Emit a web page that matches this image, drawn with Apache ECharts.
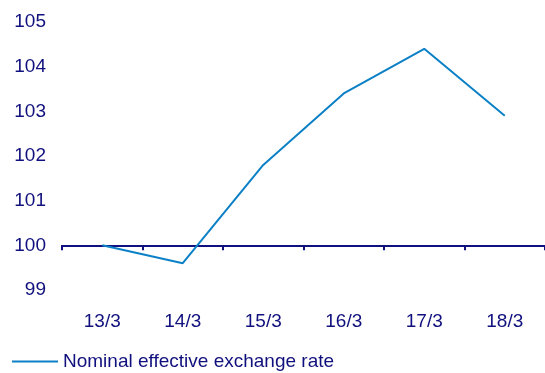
<!DOCTYPE html>
<html>
<head>
<meta charset="utf-8">
<script src="https://cdn.jsdelivr.net/npm/echarts@6/dist/echarts.min.js"></script>
<style>
  html, body { margin: 0; padding: 0; background: #fff; }
  #chart { width: 545px; height: 373px; }
</style>
</head>
<body>
<div id="chart"></div>
<script>
// Nominal effective exchange rate, index
const categories = ['13/3', '14/3', '15/3', '16/3', '17/3', '18/3'];
const rateValues = [100.0, 99.6, 101.8, 103.4, 104.4, 102.9];
const seriesName = 'Nominal effective exchange rate';

const navy = '#10107e';
const lineBlue = '#0c80c6';
const font = 'Liberation Sans, Arial, sans-serif';

const yMin = 99, yMax = 105;
const gridTop = 22, gridHeight = 268;

const chart = echarts.init(document.getElementById('chart'));
chart.setOption({
  animation: false,
  grid: { left: 62, top: gridTop, width: 486, height: gridHeight, containLabel: false },
  legend: {
    left: 7,
    top: 347,
    icon: 'rect',
    itemWidth: 46,
    itemHeight: 2,
    itemGap: 6,
    textStyle: { color: navy, fontSize: 19, fontFamily: font, padding: [0, 0, 0, 0] },
    data: [seriesName]
  },
  xAxis: {
    type: 'category',
    data: categories,
    boundaryGap: true,
    // axis line sits on the 100 baseline
    offset: -gridHeight / (yMax - yMin) * (100 - yMin),
    axisLine: { lineStyle: { color: navy, width: 2 } },
    axisTick: { show: true, length: 5, lineStyle: { color: navy, width: 2 } },
    axisLabel: { color: navy, fontSize: 19, fontFamily: font, margin: 67 },
    splitLine: { show: false }
  },
  yAxis: {
    type: 'value',
    min: yMin,
    max: yMax,
    interval: 1,
    axisLine: { show: false },
    axisTick: { show: false },
    splitLine: { show: false },
    axisLabel: { color: navy, fontSize: 19, fontFamily: font, margin: 16 }
  },
  series: [{
    name: seriesName,
    type: 'line',
    data: rateValues,
    symbol: 'none',
    lineStyle: { color: lineBlue, width: 2 },
    itemStyle: { color: lineBlue }
  }]
});
</script>
</body>
</html>
